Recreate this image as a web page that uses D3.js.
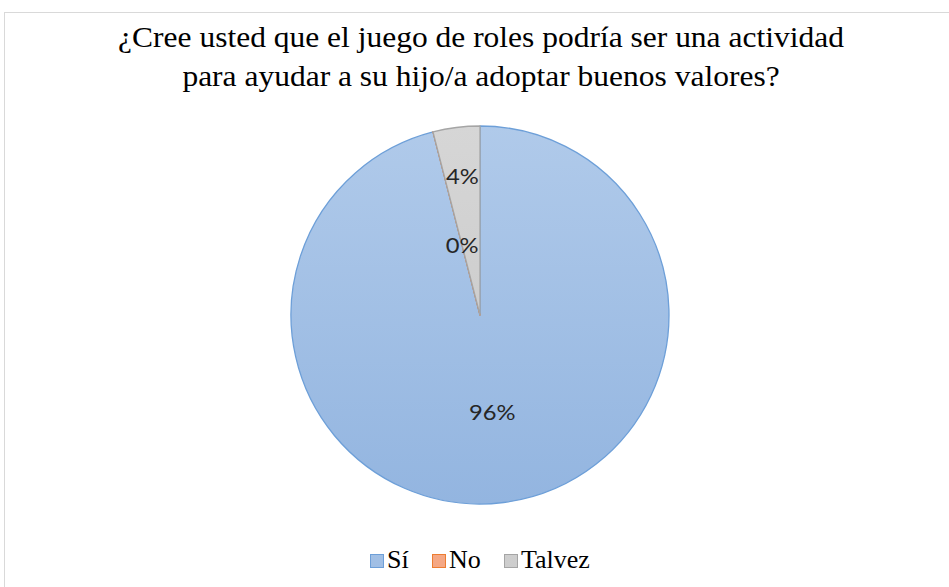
<!DOCTYPE html>
<html>
<head>
<meta charset="utf-8">
<script src="https://cdn.jsdelivr.net/npm/d3@7"></script>
<style>
  body { margin: 0; background: #fff; }
  .serif { font-family: "Liberation Serif", "DejaVu Serif", "Times New Roman", serif; }
  .lbl { font-family: Lato, "Open Sans", sans-serif; }
</style>
</head>
<body>
<div id="chart"></div>
<script>
// data
var categories = ["Sí", "No", "Talvez"];
var values = [96, 0, 4];
var labels = ["96%", "0%", "4%"];
var titleLines = ["¿Cree usted que el juego de roles podría ser una actividad",
                  "para ayudar a su hijo/a adoptar buenos valores?"];

var W = 949, H = 587;
var cx = 480, cy = 315, r = 189;
// where Excel put each label, as a fraction of the radius
var labelPos = [0.52, 0.38, 0.74];

var svg = d3.select("#chart").append("svg")
  .attr("width", W).attr("height", H);

// chart area border
svg.append("rect")
  .attr("x", 4.5).attr("y", 12.5)
  .attr("width", W + 10).attr("height", H + 10)
  .attr("fill", "#fff").attr("stroke", "#d9d9d9");

var defs = svg.append("defs");
var grads = [["#b0caea", "#93b5e0"], ["#f7b79a", "#f39a70"], ["#d6d6d6", "#c6c6c6"]];
var strokes = ["#6d9fd8", "#ed7d31", "#a5a5a5"];
grads.forEach(function (g, i) {
  var lg = defs.append("linearGradient")
    .attr("id", "g" + i)
    .attr("gradientUnits", "userSpaceOnUse")
    .attr("x1", 0).attr("y1", -r).attr("x2", 0).attr("y2", r);
  lg.append("stop").attr("offset", "0%").attr("stop-color", g[0]);
  lg.append("stop").attr("offset", "100%").attr("stop-color", g[1]);
});

// title (the original text is a touch wider than Liberation Serif)
svg.append("text")
  .attr("class", "serif")
  .attr("transform", "translate(481,47) scale(1.05,1)")
  .attr("text-anchor", "middle")
  .style("font-size", "30px")
  .attr("fill", "#000")
  .selectAll("tspan").data(titleLines).enter().append("tspan")
  .attr("x", 0).attr("dy", function (d, i) { return i ? 39 : 0; })
  .text(function (d) { return d; });

var pie = d3.pie().sort(null).value(function (d) { return d; });
var arcs = pie(values);
var arc = d3.arc().innerRadius(0).outerRadius(r);

var g = svg.append("g").attr("transform", "translate(" + cx + "," + cy + ")");
g.selectAll("path").data(arcs).enter().append("path")
  .attr("d", arc)
  .attr("fill", function (d, i) { return "url(#g" + i + ")"; })
  .attr("stroke", function (d, i) { return strokes[i]; })
  .attr("stroke-width", 1.3)
  .attr("stroke-linejoin", "round");

// data labels
g.selectAll("text.lbl").data(arcs).enter().append("text")
  .attr("class", "lbl")
  .attr("transform", function (d, i) {
    var a = (d.startAngle + d.endAngle) / 2;
    var rr = r * labelPos[i];
    return "translate(" + (Math.sin(a) * rr) + "," + (-Math.cos(a) * rr) + ") scale(1.08,1)";
  })
  .attr("text-anchor", "middle")
  .attr("dy", "0.35em")
  .style("font-size", "22px")
  .attr("fill", "#262626")
  .text(function (d, i) { return labels[i]; });

// legend
var legX = [370, 432, 504];
var leg = svg.selectAll("g.leg").data(categories).enter().append("g")
  .attr("class", "leg")
  .attr("transform", function (d, i) { return "translate(" + legX[i] + ",554)"; });
leg.append("rect")
  .attr("x", 0.5).attr("y", 0.5).attr("width", 13).attr("height", 13)
  .attr("fill", function (d, i) { return "url(#g" + i + ")"; })
  .attr("stroke", function (d, i) { return strokes[i]; });
leg.append("text")
  .attr("class", "serif")
  .attr("x", 17).attr("y", 14)
  .style("font-size", "26px")
  .attr("fill", "#000")
  .text(function (d) { return d; });
</script>
</body>
</html>
